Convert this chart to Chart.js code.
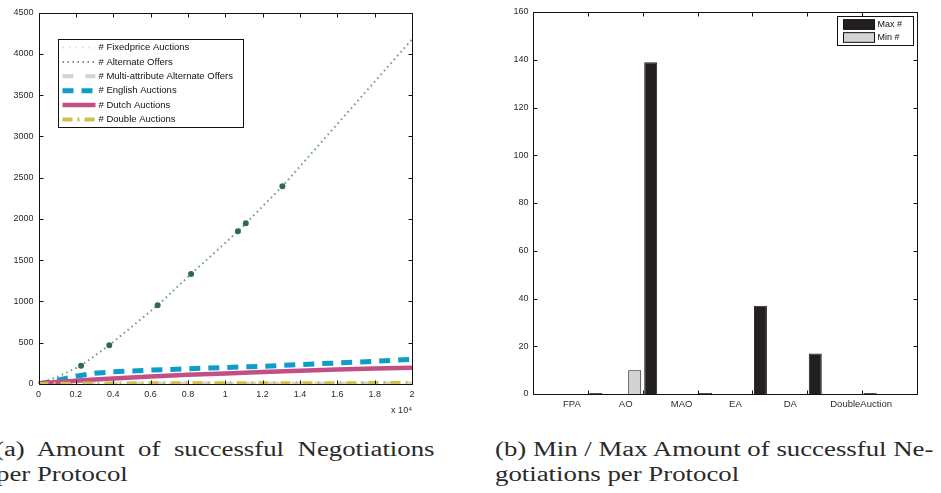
<!DOCTYPE html>
<html>
<head>
<meta charset="utf-8">
<script src="https://cdn.jsdelivr.net/npm/chart.js@4.4.1/dist/chart.umd.min.js"></script>
<style>
  body { margin: 0; background: #fff; width: 941px; height: 493px; overflow: hidden; position: relative; }
  canvas { position: absolute; top: 0; }
  #left { left: 0; }
  #right { left: 470px; }
  .cap { position: absolute; font-family: "Liberation Serif", serif; font-size: 20px; line-height: 25px;
         color: #2a2a2a; white-space: nowrap; transform: scaleX(1.34); transform-origin: 0 0; }
  .just { white-space: normal; width: 328px; text-align: justify; text-align-last: justify; }
</style>
</head>
<body>
<canvas id="left" width="470" height="425"></canvas>
<canvas id="right" width="471" height="425"></canvas>
<div class="cap just" style="left:-5px; top:437px;">(a) Amount of successful Negotiations</div>
<div class="cap" style="left:-4px; top:462px;">per Protocol</div>
<div class="cap" style="left:495px; top:437px;">(b) Min / Max Amount of successful Ne-</div>
<div class="cap" style="left:495px; top:462px;">gotiations per Protocol</div>
<script>
// negotiations started (x axis), shared by most protocols
const runs = [0, 1000, 2000, 3000, 4000, 6000, 8000, 10000, 12000, 14000, 16000, 18000, 20000];
const fixedprice = [0, 0, 0, 0, 0, 0, 0, 0, 0, 0, 0, 0, 0];
const multiAttr = [0, 1, 2, 2, 3, 3, 3, 4, 4, 4, 4, 5, 5];
const english = [0, 45, 95, 130, 148, 168, 185, 200, 215, 235, 255, 275, 300];
const dutch = [10, 25, 40, 55, 68, 92, 112, 128, 145, 160, 177, 188, 198];
const double = [0, 3, 5, 6, 7, 8, 8, 9, 9, 10, 10, 11, 12];

// alternate offers were sampled on their own runs
const aoRuns = [0, 1000, 2280, 3790, 6380, 8170, 10680, 11100, 13060, 20000];
const alternate = [0, 85, 222, 469, 953, 1332, 1849, 1946, 2394, 4175];

// min / max successful negotiations per protocol
const protocols = ['FPA', 'AO', 'MAO', 'EA', 'DA', 'DoubleAuction'];
const maxCounts = [0, 139, 0, 37, 17, 0];
const minCounts = [0, 10, 0, 0, 0, 0];

Chart.defaults.font.family = '"Liberation Sans", Arial, sans-serif';
Chart.defaults.font.size = 9;
Chart.defaults.color = '#2a2a2a';

const pts = (xs, ys) => xs.map((x, i) => ({ x: x, y: ys[i] }));

// axes box with tick marks pointing inwards on every side
const frameTicks = {
  id: 'frameTicks',
  afterDatasetsDraw(chart, args, o) {
    const { ctx, chartArea: a, scales } = chart;
    const L = Math.round(a.left) + 0.5, R = Math.round(a.right) + 0.5;
    const T = Math.round(a.top) + 0.5, B = Math.round(a.bottom) + 0.5;
    ctx.save();
    ctx.strokeStyle = o.color;
    ctx.lineWidth = 1;
    ctx.beginPath();
    ctx.rect(L, T, R - L, B - T);
    scales.x.ticks.forEach((t, i) => {
      const px = Math.round(scales.x.getPixelForTick(i)) + 0.5;
      ctx.moveTo(px, B); ctx.lineTo(px, B - o.length);
      ctx.moveTo(px, T); ctx.lineTo(px, T + o.length);
    });
    scales.y.ticks.forEach((t, i) => {
      const py = Math.round(scales.y.getPixelForTick(i)) + 0.5;
      ctx.moveTo(L, py); ctx.lineTo(L + o.length, py);
      ctx.moveTo(R, py); ctx.lineTo(R - o.length, py);
    });
    ctx.stroke();
    // category names sit a little left of their ticks
    if (o.labels) {
      ctx.fillStyle = o.labelColor;
      ctx.font = o.labelFont;
      ctx.textAlign = 'center';
      ctx.textBaseline = 'top';
      o.labels.forEach((name, i) => {
        const px = scales.x.getPixelForValue(i + 1) + o.labelShift[i];
        ctx.fillText(name, px, a.bottom + o.labelPad);
      });
    }
    ctx.restore();
  }
};

// boxed legend drawn inside the plot area
const boxLegend = {
  id: 'boxLegend',
  afterDraw(chart, args, o) {
    const { ctx, chartArea: area } = chart;
    let items = chart.data.datasets.filter(ds => ds.label);
    if (o.reverse) items = items.slice().reverse();
    ctx.save();
    ctx.font = o.font;
    const textW = Math.max(...items.map(ds => ctx.measureText(ds.label).width));
    const w = Math.round(o.padL + o.sample + o.gap + textW + o.padR);
    const h = Math.round(items.length * o.row + 2 * o.padV);
    const x0 = Math.round(o.right != null ? area.right - o.right - w : area.left + o.left) + 0.5;
    const y0 = Math.round(area.top + o.top) + 0.5;
    ctx.fillStyle = '#fff';
    ctx.fillRect(x0, y0, w, h);
    ctx.strokeStyle = '#111';
    ctx.lineWidth = 1;
    ctx.strokeRect(x0, y0, w, h);
    items.forEach((ds, i) => {
      const cy = y0 + o.padV + o.row * (i + 0.5);
      const sx = x0 + o.padL;
      if (o.swatch) {
        ctx.fillStyle = ds.backgroundColor;
        ctx.fillRect(sx, cy - o.swatch / 2, o.sample, o.swatch);
        ctx.strokeStyle = '#111';
        ctx.lineWidth = 1;
        ctx.strokeRect(sx, cy - o.swatch / 2, o.sample, o.swatch);
      } else {
        ctx.strokeStyle = ds.borderColor;
        ctx.lineWidth = ds.borderWidth;
        ctx.setLineDash(ds.borderDash || []);
        ctx.beginPath();
        ctx.moveTo(sx, cy);
        ctx.lineTo(sx + o.sample, cy);
        ctx.stroke();
        ctx.setLineDash([]);
      }
      ctx.fillStyle = o.color;
      ctx.textAlign = 'left';
      ctx.textBaseline = 'middle';
      ctx.fillText(ds.label, sx + o.sample + o.gap, cy);
    });
    ctx.restore();
  }
};

const lineSets = [
  { label: '# Fixedprice Auctions', data: pts(runs, fixedprice), borderColor: '#dcdcdc', borderWidth: 2, borderDash: [1.5, 5] },
  { label: '# Alternate Offers', data: pts(aoRuns, alternate), borderColor: '#6f9a82', borderWidth: 2, borderDash: [1.5, 3.5],
    pointRadius: c => (c.dataIndex > 1 && c.dataIndex < aoRuns.length - 1) ? 2 : 0,
    pointBackgroundColor: '#2f6a4c', pointBorderColor: '#2f6a4c' },
  { label: '# Multi-attribute Alternate Offers', data: pts(runs, multiAttr), borderColor: '#d3d3d3', borderWidth: 4, borderDash: [11, 12] },
  { label: '# English Auctions', data: pts(runs, english), borderColor: '#0e9dc8', borderWidth: 5, borderDash: [11, 8] },
  { label: '# Dutch Auctions', data: pts(runs, dutch), borderColor: '#c24f86', borderWidth: 4.5 },
  { label: '# Double Auctions', data: pts(runs, double), borderColor: '#d0bf48', borderWidth: 4, borderDash: [10, 5, 2, 5] }
];
lineSets.forEach((ds, i) => {
  ds.fill = false;
  ds.tension = 0;
  if (ds.pointRadius === undefined) ds.pointRadius = 0;
  ds.order = lineSets.length - i; // later series painted on top
});

new Chart(document.getElementById('left'), {
  type: 'line',
  data: { datasets: lineSets },
  options: {
    responsive: false,
    animation: false,
    layout: { padding: { left: 0, top: 12.5, right: 58, bottom: 0 } },
    plugins: {
      legend: { display: false },
      tooltip: { enabled: false },
      frameTicks: { color: '#111', length: 4 },
      boxLegend: { left: 19.5, top: 26.5, padL: 4, sample: 33, gap: 3, padR: 11, row: 14.4, padV: 0.8,
                   font: '9.5px "Liberation Sans"', color: '#111' }
    },
    scales: {
      x: {
        type: 'linear', min: 0, max: 20000,
        afterFit: s => { s.height = 41; },
        grid: { display: false, drawTicks: false }, border: { display: false },
        ticks: { stepSize: 2000, padding: 5, maxRotation: 0, callback: v => String(v / 10000) },
        title: { display: true, text: 'x 10\u2074', align: 'end', padding: { top: 0, bottom: 9.5 }, font: { size: 9 } }
      },
      y: {
        min: 0, max: 4500,
        afterFit: s => { s.width = 38.5; },
        grid: { display: false, drawTicks: false }, border: { display: false },
        ticks: { stepSize: 500, padding: 5, callback: v => String(v) }
      }
    }
  },
  plugins: [frameTicks, boxLegend]
});

new Chart(document.getElementById('right'), {
  type: 'bar',
  data: {
    labels: ['', ...protocols, ''],
    datasets: [
      { label: 'Min #', data: [null, ...minCounts, null], backgroundColor: '#d3d3d3', borderColor: '#1a1a1a', borderWidth: 1 },
      { label: 'Max #', data: [null, ...maxCounts, null], backgroundColor: '#231f20', borderColor: '#231f20', borderWidth: 1, minBarLength: 1 }
    ]
  },
  options: {
    responsive: false,
    animation: false,
    categoryPercentage: 0.583,
    barPercentage: 0.8125,
    layout: { padding: { left: 0, top: 12, right: 24, bottom: 0 } },
    plugins: {
      legend: { display: false },
      tooltip: { enabled: false },
      frameTicks: { color: '#111', length: 4, labels: protocols, labelShift: [-16, -17, -16, -17, -17, -1],
                    labelFont: '9.5px "Liberation Sans"', labelColor: '#2a2a2a', labelPad: 5.5 },
      boxLegend: { right: 4, top: 4, reverse: true, swatch: 9.7, padL: 6, sample: 31, gap: 3, padR: 11, row: 13, padV: 1.5,
                   font: '9px "Liberation Sans"', color: '#111' }
    },
    scales: {
      x: {
        offset: false,
        afterFit: s => { s.height = 31; },
        grid: { display: false, drawTicks: false }, border: { display: false },
        ticks: { display: false }
      },
      y: {
        min: 0, max: 160,
        afterFit: s => { s.width = 63; },
        grid: { display: false, drawTicks: false }, border: { display: false },
        ticks: { stepSize: 20, padding: 4.5 }
      }
    }
  },
  plugins: [frameTicks, boxLegend]
});
</script>
</body>
</html>
